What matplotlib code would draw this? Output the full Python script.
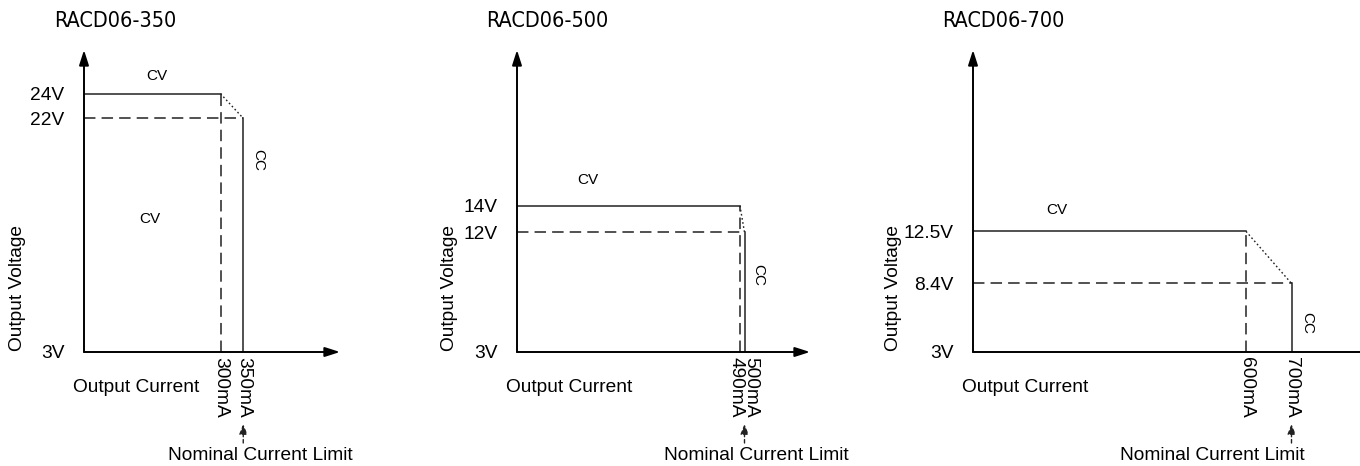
import matplotlib
matplotlib.use("Agg")
import matplotlib.pyplot as plt
from matplotlib import font_manager

# data (current in mA, voltage in V)
titles = ["RACD06-350", "RACD06-500", "RACD06-700"]
v_max = [24, 14, 12.5]
v_cc = [22, 12, 8.4]
v_min = 3
i_knee = [300, 490, 600]
i_limit = [350, 500, 700]
v_labels = [["24V", "22V", "3V"], ["14V", "12V", "3V"], ["12.5V", "8.4V", "3V"]]
i_labels = [["300mA", "350mA"], ["490mA", "500mA"], ["600mA", "700mA"]]

W, H = 1360, 466
names = {f.name for f in font_manager.fontManager.ttflist}
body = "Liberation Sans" if "Liberation Sans" in names else "DejaVu Sans"
plt.rcParams['font.family'] = [body, 'DejaVu Sans']

# layout in pixels (reference image)
ax_left = [84, 517, 973]
ax_right = [340, 810, 1395]
ax_base, ax_top = 352, 50
px_per_mA = 0.455
px_per_V = [12.3, 13.3, 12.7]
title_x = [54, 486, 942]
ylab_x = [18, 450, 893]
cv_pos = [[(157, 76), (150, 219)], [(588, 180)], [(1057, 210)]]
cc_pos = [(258, 160), (758, 275), (1307, 323)]
ilab_dx = [[0, 0], [-4, 6], [0, 0]]
nom_x = [260, 756, 1212]
fs = 13.8


def fx(x):
    return x / W


def fy(y):
    return 1 - y / H


fig = plt.figure(figsize=(W / 100, H / 100), dpi=100)

for k in range(3):
    L, R = ax_left[k], ax_right[k]
    ax = fig.add_axes([fx(L), fy(ax_base), (R - L) / W, (ax_base - ax_top) / H])
    xmax = (R - L) / px_per_mA
    ymax = v_min + (ax_base - ax_top) / px_per_V[k]
    ax.set_xlim(0, xmax)
    ax.set_ylim(v_min, ymax)
    for s in ax.spines.values():
        s.set_visible(False)
    ax.set_xticks([])
    ax.set_yticks([v_max[k], v_cc[k], v_min])
    ax.set_yticklabels(v_labels[k], fontsize=fs)
    ax.tick_params(axis='y', length=0, pad=14)

    arrow = dict(arrowstyle='-|>,head_length=0.5,head_width=0.16', lw=1.4,
                 color='black', mutation_scale=18, shrinkA=0, shrinkB=0)
    ax.annotate('', xy=(xmax, v_min), xytext=(0, v_min), arrowprops=arrow,
                annotation_clip=False)
    ax.annotate('', xy=(0, ymax), xytext=(0, v_min), arrowprops=arrow,
                annotation_clip=False)

    c = '#222222'
    # CV line
    ax.plot([0, i_knee[k]], [v_max[k], v_max[k]], color=c, lw=1.1)
    # droop to CC point
    ax.plot([i_knee[k], i_limit[k]], [v_max[k], v_cc[k]], color=c, lw=1.0,
            dashes=(1.2, 1.8))
    # dashed guides
    ax.plot([0, i_limit[k]], [v_cc[k], v_cc[k]], color=c, lw=1.1, dashes=(7.5, 4))
    ax.plot([i_knee[k], i_knee[k]], [v_min, v_max[k]], color=c, lw=1.1,
            dashes=(7.5, 4))
    # CC line
    ax.plot([i_limit[k], i_limit[k]], [v_min, v_cc[k]], color=c, lw=1.1)

    # current labels under the axis
    for j, I in enumerate([i_knee[k], i_limit[k]]):
        ax.annotate(i_labels[k][j], xy=(I, v_min), xytext=(ilab_dx[k][j], -5),
                    textcoords='offset pixels', rotation=270, ha='center',
                    va='top', fontsize=fs, annotation_clip=False)

    # nominal limit arrow
    ax.annotate('', xy=(i_limit[k], v_min - 72 / px_per_V[k]),
                xytext=(i_limit[k], v_min - 91 / px_per_V[k]),
                arrowprops=dict(arrowstyle='-|>,head_length=0.5,head_width=0.2',
                                lw=1.0, color=c, mutation_scale=12,
                                linestyle=(0, (2.5, 2)), shrinkA=0, shrinkB=0),
                annotation_clip=False)

    fig.text(fx(title_x[k]), fy(27), titles[k], fontsize=15.5,
             family='DejaVu Sans', stretch='condensed', ha='left', va='baseline')
    fig.text(fx(ylab_x[k]), fy(351), "Output Voltage", rotation=90,
             fontsize=fs, ha='center', va='bottom')
    fig.text(fx(L - 11), fy(388), "Output Current", fontsize=fs,
             ha='left', va='center')
    fig.text(fx(nom_x[k]), fy(455), "Nominal Current Limit", fontsize=fs,
             ha='center', va='center')
    for (x, y) in cv_pos[k]:
        fig.text(fx(x), fy(y), "CV", fontsize=11, ha='center', va='center')
    fig.text(fx(cc_pos[k][0]), fy(cc_pos[k][1]), "CC", fontsize=11,
             rotation=270, ha='center', va='center')

fig.savefig("out.png", dpi=100, facecolor='white')
